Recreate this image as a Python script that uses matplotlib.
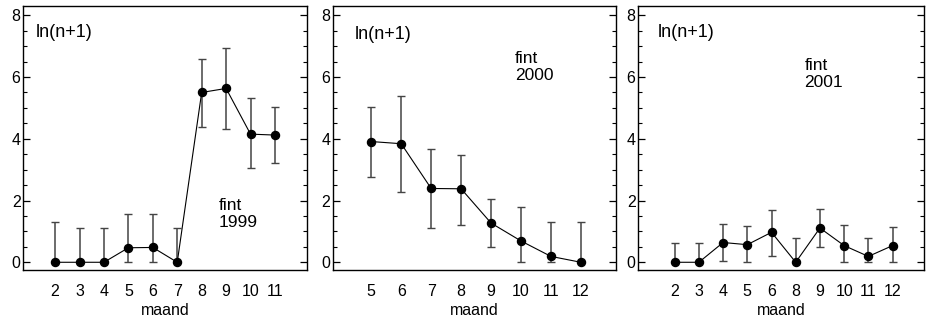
import matplotlib
matplotlib.use("Agg")
import matplotlib.pyplot as plt
from matplotlib.ticker import MultipleLocator

plt.rcParams["font.family"] = ["Liberation Sans", "DejaVu Sans"]

# fint 1999
months_1999 = ["2", "3", "4", "5", "6", "7", "8", "9", "10", "11"]
mean_1999 = [0, 0, 0, 0.47, 0.48, 0, 5.50, 5.63, 4.15, 4.12]
upper_1999 = [1.31, 1.10, 1.10, 1.57, 1.57, 1.10, 6.58, 6.95, 5.31, 5.04]
lower_1999 = [0, 0, 0, 0, 0, 0, 4.37, 4.31, 3.06, 3.22]

# fint 2000
months_2000 = ["5", "6", "7", "8", "9", "10", "11", "12"]
mean_2000 = [3.91, 3.84, 2.39, 2.38, 1.27, 0.69, 0.19, 0]
upper_2000 = [5.02, 5.40, 3.67, 3.48, 2.06, 1.80, 1.31, 1.31]
lower_2000 = [2.76, 2.26, 1.11, 1.22, 0.49, 0, 0, 0]

# fint 2001
months_2001 = ["2", "3", "4", "5", "6", "8", "9", "10", "11", "12"]
mean_2001 = [0, 0, 0.64, 0.57, 0.97, 0, 1.11, 0.54, 0.19, 0.54]
upper_2001 = [0.62, 0.62, 1.24, 1.18, 1.69, 0.77, 1.72, 1.21, 0.80, 1.15]
lower_2001 = [0, 0, 0.03, 0, 0.19, 0, 0.48, 0, 0, 0]

panels = [
    (months_1999, mean_1999, upper_1999, lower_1999, "fint\n1999",
     [0.0251, 0.1589, 0.3047, 0.8224], (-1.3, 10.3), (-0.78, 7.72), (6.68, 2.08)),
    (months_2000, mean_2000, upper_2000, lower_2000, "fint\n2000",
     [0.3580, 0.1589, 0.3043, 0.8224], (-1.28, 8.17), (-0.56, 7.65), (4.8, 6.85)),
    (months_2001, mean_2001, upper_2001, lower_2001, "fint\n2001",
     [0.6864, 0.1589, 0.3072, 0.8224], (-1.5, 10.3), (-0.71, 7.72), (5.36, 6.62)),
]

fig = plt.figure(figsize=(9.3, 3.21), dpi=100)

for months, mean, upper, lower, label, rect, xlim, lnpos, fintpos in panels:
    ax = fig.add_axes(rect)
    x = list(range(len(months)))
    err = [[m - lo for m, lo in zip(mean, lower)],
           [up - m for m, up in zip(mean, upper)]]
    _, caps, bars = ax.errorbar(x, mean, yerr=err, fmt="none", ecolor="#444444",
                                elinewidth=1.1, capsize=2.6, capthick=1.0)
    for c in caps:
        c.set_color("black")
    ax.plot(x, mean, "-o", color="black", lw=0.8, ms=5.8, zorder=3)

    ax.set_xlim(*xlim)
    ax.set_ylim(-0.25, 8.3)
    ax.set_xticks(x)
    ax.set_xticklabels(months)
    ax.set_yticks([0, 2, 4, 6, 8])
    ax.yaxis.set_minor_locator(MultipleLocator(0.5))
    ax.tick_params(axis="y", which="both", direction="in", left=True, right=True,
                   labelsize=11.5, pad=2)
    ax.tick_params(axis="y", which="major", length=5, width=0.9)
    ax.tick_params(axis="y", which="minor", length=3, width=0.8)
    ax.tick_params(axis="x", length=0, labelsize=11.5, pad=10)
    ax.set_xlabel("maand", fontsize=11.5, labelpad=3)
    for s in ax.spines.values():
        s.set_linewidth(1.0)

    ax.text(lnpos[0], lnpos[1], "ln(n+1)", fontsize=13, va="top", ha="left")
    ax.text(fintpos[0], fintpos[1], label, fontsize=12.5, va="top", ha="left",
            linespacing=1.2)

fig.savefig("out.png", dpi=100)
